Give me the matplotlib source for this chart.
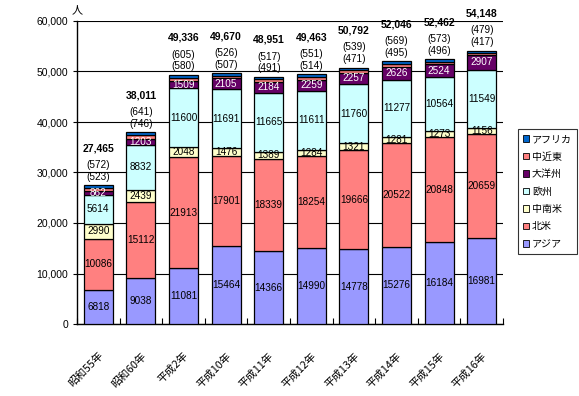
import matplotlib
matplotlib.use("Agg")
import matplotlib.pyplot as plt
from matplotlib.patches import Patch
import numpy as np

categories = ["昭和55年", "昭和60年", "平成2年", "平成10年", "平成11年",
              "平成12年", "平成13年", "平成14年", "平成15年", "平成16年"]
asia = [6818, 9038, 11081, 15464, 14366, 14990, 14778, 15276, 16184, 16981]
north_america = [10086, 15112, 21913, 17901, 18339, 18254, 19666, 20522, 20848, 20659]
latin_america = [2990, 2439, 2048, 1476, 1389, 1284, 1321, 1281, 1273, 1156]
europe = [5614, 8832, 11600, 11691, 11665, 11611, 11760, 11277, 10564, 11549]
oceania = [862, 1203, 1509, 2105, 2184, 2259, 2257, 2626, 2524, 2907]
middle_east = [523, 746, 580, 507, 491, 514, 471, 495, 496, 417]
africa = [572, 641, 605, 526, 517, 551, 539, 569, 573, 479]
totals = [27465, 38011, 49336, 49670, 48951, 49463, 50792, 52046, 52462, 54148]

series = [("アジア", asia, "#9999FF", "black"),
          ("北米", north_america, "#FF8080", "black"),
          ("中南米", latin_america, "#FFFFCC", "black"),
          ("欧州", europe, "#CCFFFF", "black"),
          ("大洋州", oceania, "#660066", "white"),
          ("中近東", middle_east, "#FF8080", None),
          ("アフリカ", africa, "#0066CC", None)]

jp = ["Noto Sans CJK JP", "DejaVu Sans"]
num = ["Liberation Sans", "DejaVu Sans"]

fig = plt.figure(figsize=(5.79, 3.96), dpi=100)
ax = fig.add_axes([77/579, 1-324/396, 426/579, 303/396])

x = np.arange(len(categories))
w = 0.68
bottom = np.zeros(len(categories))
handles = []
for name, vals, col, tcol in series:
    vals = np.array(vals, dtype=float)
    ax.bar(x, vals, w, bottom=bottom, color=col, edgecolor="black", linewidth=0.9, zorder=3)
    if tcol is not None:
        for xi, b, v in zip(x, bottom, vals):
            ax.text(xi, b + v/2, f"{int(v)}", ha="center", va="center", color=tcol,
                    fontsize=7.2, family=num, zorder=4)
    bottom += vals
    handles.append(Patch(facecolor=col, edgecolor="black", linewidth=0.6, label=name))

for xi, top, me, af, t in zip(x, bottom, middle_east, africa, totals):
    ax.annotate(f"({me})", (xi, top), xytext=(0, 2.5), textcoords="offset points",
                ha="center", va="bottom", fontsize=7.2, family=num, zorder=5)
    ax.annotate(f"({af})", (xi, top), xytext=(0, 11), textcoords="offset points",
                ha="center", va="bottom", fontsize=7.2, family=num, zorder=5)
    ax.annotate(f"{t:,}", (xi, top), xytext=(0, 23), textcoords="offset points",
                ha="center", va="bottom", fontsize=7.5, family=num, fontweight="bold", zorder=5)

ax.set_xlim(-0.5, len(categories) - 0.5)
ax.set_ylim(0, 60000)
ax.set_yticks(np.arange(0, 60001, 10000))
ax.set_yticklabels([f"{v:,}" for v in range(0, 60001, 10000)], family=num, fontsize=7.5)
ax.yaxis.grid(True, color="black", linewidth=0.8, zorder=0)
ax.tick_params(axis="y", direction="out", length=3, width=0.8)

ax.set_xticks(x)
ax.set_xticklabels(categories, rotation=45, ha="right", rotation_mode="anchor",
                   family=jp, fontsize=7.8)
ax.tick_params(axis="x", which="major", length=0, pad=19)
ax.set_xticks(np.arange(-0.5, len(categories), 1.0), minor=True)
ax.tick_params(axis="x", which="minor", direction="in", length=4, width=0.8)

for s in ["top", "right"]:
    ax.spines[s].set_visible(False)
for s in ["left", "bottom"]:
    ax.spines[s].set_linewidth(1.0)

fig.text(72/579, 1-10/396, "人", family=jp, fontsize=8, ha="left", va="center")

leg = fig.legend(handles=handles[::-1], loc="upper left",
                 bbox_to_anchor=(513/579, 1-124/396), prop={"family": jp, "size": 7.2},
                 handlelength=0.6, handleheight=0.6, handletextpad=0.3,
                 labelspacing=0.75, borderpad=0.5, fancybox=False, frameon=True)
leg.get_frame().set_edgecolor("black")
leg.get_frame().set_linewidth(0.8)

fig.savefig("out.png", dpi=100)
